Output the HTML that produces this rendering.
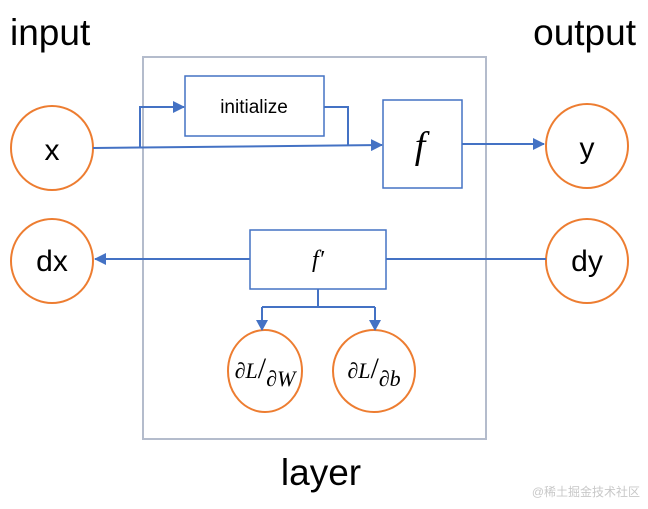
<!DOCTYPE html>
<html><head><meta charset="utf-8"><style>
body{margin:0;background:#fff;width:648px;height:504px;overflow:hidden}
svg text{font-family:"Liberation Sans","DejaVu Sans",sans-serif}
</style></head><body>
<svg width="648" height="504" xmlns="http://www.w3.org/2000/svg">
<defs><marker id="a" markerWidth="12" markerHeight="12" refX="11" refY="6" orient="auto" markerUnits="userSpaceOnUse"><path d="M0,0 L12,6 L0,12 z" fill="#4472c4"/></marker></defs>
<text x="10" y="45" font-size="37">input</text>
<text x="636" y="45" font-size="37" text-anchor="end">output</text>
<text x="321" y="485" font-size="37" text-anchor="middle">layer</text>
<rect x="143" y="57" width="343" height="382" fill="none" stroke="#b4bccc" stroke-width="2"/>
<g fill="none" stroke="#ed7d31" stroke-width="2">
<ellipse cx="52" cy="148" rx="41" ry="42"/>
<ellipse cx="587" cy="146" rx="41" ry="42"/>
<ellipse cx="52" cy="261" rx="41" ry="42"/>
<ellipse cx="587" cy="261" rx="41" ry="42"/>
<ellipse cx="265" cy="371" rx="37" ry="41"/>
<ellipse cx="374" cy="371" rx="41" ry="41"/>
</g>
<g fill="#fff" stroke="#4472c4" stroke-width="1.5">
<rect x="185" y="76" width="139" height="60"/>
<rect x="383" y="100" width="79" height="88"/>
<rect x="250" y="230" width="136" height="59"/>
</g>
<g fill="none" stroke="#4472c4" stroke-width="2">
<path d="M93,148 L382,145" marker-end="url(#a)"/>
<path d="M140,148 V107 H184" marker-end="url(#a)"/>
<path d="M324,107 H348 V145"/>
<path d="M462,144 H544" marker-end="url(#a)"/>
<path d="M546,259 H386"/>
<path d="M250,259 H95" marker-end="url(#a)"/>
<path d="M318,289 V307 M262,307 H375 M262,307 V330 M375,307 V330"/>
</g>
<path d="M256,320 L268,320 L262,331 z M369,320 L381,320 L375,331 z" fill="#4472c4"/>
<text x="254" y="113" font-size="19" text-anchor="middle">initialize</text>
<text x="52" y="160" font-size="30" text-anchor="middle">x</text>
<text x="587" y="158" font-size="30" text-anchor="middle">y</text>
<text x="52" y="271" font-size="30" text-anchor="middle">dx</text>
<text x="587" y="271" font-size="30" text-anchor="middle">dy</text>
<text x="420" y="158" font-size="38" font-style="italic" text-anchor="middle" style="font-family:'Liberation Serif',serif">f</text>
<text x="318" y="267" font-size="24" font-style="italic" text-anchor="middle" style="font-family:'Liberation Serif',serif">f′</text>
<text x="265" y="378" font-size="22" text-anchor="middle" style="font-family:'Liberation Serif',serif"><tspan font-style="italic">∂L</tspan><tspan font-size="30">/</tspan><tspan font-style="italic" dy="8">∂W</tspan></text>
<text x="374" y="378" font-size="22" text-anchor="middle" style="font-family:'Liberation Serif',serif"><tspan font-style="italic">∂L</tspan><tspan font-size="30">/</tspan><tspan font-style="italic" dy="8">∂b</tspan></text>
<text x="640" y="496" font-size="12" fill="#c8c8c8" text-anchor="end" style="font-family:'Liberation Sans','Noto Sans CJK SC',sans-serif">@稀土掘金技术社区</text>
</svg>
</body></html>
